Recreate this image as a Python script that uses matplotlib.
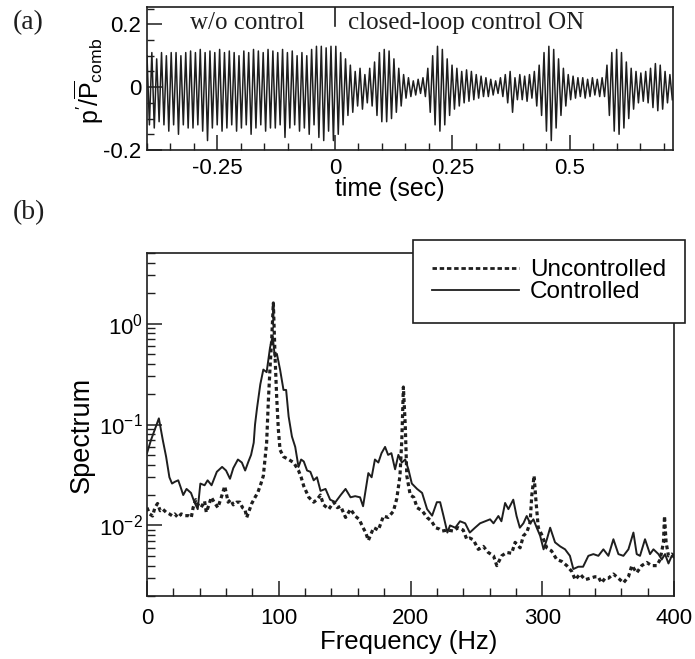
import numpy as np
import matplotlib
matplotlib.use("Agg")
import matplotlib.pyplot as plt
from matplotlib.ticker import MultipleLocator, FixedLocator, LogLocator, NullFormatter, FixedFormatter
from matplotlib.lines import Line2D

plt.rcParams['font.family'] = ['Liberation Sans', 'DejaVu Sans']
plt.rcParams['mathtext.fontset'] = 'custom'
plt.rcParams['mathtext.rm'] = 'Liberation Sans'
plt.rcParams['mathtext.it'] = 'Liberation Sans:italic'
plt.rcParams['mathtext.bf'] = 'Liberation Sans:bold'

INK = '#1e1e1e'

# ---------------- Panel (a): pressure trace, per-cycle peaks
signal_freq_hz = 97.0
signal_t0 = -0.4
upper_pre = [0.10, 0.11, 0.09, 0.11, 0.10, 0.11, 0.11, 0.10, 0.11, 0.115, 0.11, 0.12, 0.11,
             0.115, 0.11, 0.12, 0.11, 0.115, 0.11, 0.10, 0.115, 0.11, 0.12, 0.115, 0.11, 0.12,
             0.115, 0.11, 0.12, 0.11, 0.115, 0.10, 0.11, 0.10, 0.12, 0.13, 0.13, 0.125, 0.13]
lower_pre = [-0.12, -0.13, -0.11, -0.12, -0.14, -0.12, -0.15, -0.12, -0.13, -0.13, -0.12, -0.14,
             -0.17, -0.13, -0.12, -0.14, -0.13, -0.12, -0.14, -0.13, -0.12, -0.15, -0.13, -0.12,
             -0.14, -0.13, -0.13, -0.12, -0.16, -0.13, -0.12, -0.14, -0.13, -0.15, -0.12, -0.16,
             -0.17, -0.14, -0.17]
upper_post = [0.13, 0.11, 0.09, 0.07, 0.05, 0.06, 0.04,
              0.06, 0.08, 0.11, 0.12, 0.115, 0.09, 0.06,
              0.04, 0.03, 0.02, 0.025, 0.03,
              0.06, 0.10, 0.13, 0.12, 0.09, 0.07,
              0.06, 0.05, 0.055, 0.05, 0.04, 0.035, 0.03, 0.025, 0.02,
              0.03, 0.04, 0.05, 0.03, 0.04, 0.035, 0.04,
              0.05, 0.07, 0.11, 0.13, 0.12, 0.09, 0.06, 0.04,
              0.035, 0.03, 0.03, 0.025, 0.03, 0.025, 0.03,
              0.07, 0.11, 0.12, 0.11, 0.08, 0.06,
              0.05, 0.045, 0.05, 0.06, 0.075, 0.07, 0.05, 0.04]
lower_post = [-0.15, -0.12, -0.09, -0.08, -0.06, -0.07, -0.05,
              -0.06, -0.09, -0.11, -0.11, -0.10, -0.08, -0.06,
              -0.035, -0.03, -0.025, -0.02, -0.03,
              -0.08, -0.12, -0.14, -0.12, -0.09, -0.07,
              -0.06, -0.05, -0.045, -0.04, -0.035, -0.03, -0.03, -0.025, -0.02,
              -0.03, -0.05, -0.08, -0.04, -0.04, -0.045, -0.035,
              -0.06, -0.09, -0.14, -0.17, -0.13, -0.09, -0.06, -0.04,
              -0.035, -0.03, -0.035, -0.03, -0.025, -0.03, -0.03,
              -0.09, -0.14, -0.15, -0.13, -0.10, -0.07,
              -0.05, -0.045, -0.05, -0.065, -0.075, -0.07, -0.05, -0.04]

# ---------------- Panel (b): spectra
ctrl_f = [0, 3, 6, 9, 12, 14.5, 17, 19, 21, 23.7, 25.5, 27.5, 30, 33.4, 36, 38.5, 40.5, 43.7,
          46, 49, 53, 57, 60, 63, 65.5, 69, 72, 74.5, 77, 79, 81, 82, 83.5, 86, 88.3, 90.8,
          93.4, 95.4, 97, 98.6, 101, 103.6, 105.6, 107.5, 110, 112.5, 115, 117, 119, 121.5,
          124, 126.5, 129, 131.7, 135.5, 139, 143, 147, 150.7, 154.5, 158, 161.7, 164, 168,
          170.5, 173, 175.6, 178, 180.7, 183, 185.5, 188.3, 190.8, 193.4, 196, 198.4, 201,
          205, 208.8, 212.6, 216.4, 220, 222.5, 225, 228, 230, 234, 237.6, 241.5, 245, 249,
          252.8, 256.6, 260.4, 263, 266.7, 269, 271.8, 274.3, 278, 280.5, 283, 285.7, 288.2,
          290.8, 293.3, 295.8, 298.4, 301, 303.4, 306, 309.7, 313.6, 317.3, 321, 323.6, 327.4,
          331, 335, 338.8, 342.6, 346.4, 350.2, 354, 357.8, 361.6, 365.4, 369.2, 371.7, 374.2,
          378, 381.8, 384.4, 388.2, 390.7, 393.2, 395.8, 398.3, 400]
ctrl_s = [0.052, 0.07, 0.09, 0.115, 0.07, 0.048, 0.03, 0.026, 0.027, 0.028, 0.024, 0.02, 0.023,
          0.021, 0.017, 0.0145, 0.026, 0.025, 0.028, 0.025, 0.034, 0.038, 0.035, 0.029, 0.037,
          0.045, 0.042, 0.035, 0.043, 0.05, 0.066, 0.1, 0.145, 0.25, 0.35, 0.33, 0.58, 0.75,
          0.47, 0.5, 0.35, 0.22, 0.22, 0.12, 0.076, 0.06, 0.038, 0.045, 0.043, 0.035, 0.034,
          0.028, 0.03, 0.022, 0.023, 0.018, 0.017, 0.02, 0.023, 0.019, 0.0195, 0.019, 0.0155,
          0.033, 0.03, 0.045, 0.042, 0.052, 0.06, 0.05, 0.052, 0.036, 0.05, 0.042, 0.045,
          0.036, 0.026, 0.023, 0.021, 0.0145, 0.0125, 0.017, 0.017, 0.0125, 0.0085, 0.01,
          0.0095, 0.011, 0.0105, 0.0085, 0.0095, 0.0105, 0.011, 0.0115, 0.0105, 0.0124, 0.011,
          0.0167, 0.0145, 0.018, 0.0124, 0.0095, 0.0105, 0.0124, 0.0105, 0.0115, 0.0095,
          0.0079, 0.0058, 0.0072, 0.0095, 0.0068, 0.0062, 0.0058, 0.005, 0.0037, 0.0039,
          0.0039, 0.005, 0.0052, 0.005, 0.0058, 0.005, 0.0073, 0.0052, 0.005, 0.0058, 0.0085,
          0.0052, 0.005, 0.0073, 0.0052, 0.0058, 0.0052, 0.0046, 0.0052, 0.0042, 0.005, 0.0048]
unc_f = [0, 2, 4.2, 6, 8, 10, 12, 14.5, 17, 19, 21, 23.5, 26, 29, 31.5, 33.6, 35, 37, 38.8, 41,
         43.7, 45, 47, 48.8, 51, 53.8, 56.4, 59, 61.6, 63.5, 65.5, 68, 70.5, 72.5, 74.3, 75.7,
         77.5, 79.5, 82, 84, 86.5, 88.3, 90.8, 92.1, 93.4, 94.6, 95.9, 97.2, 98.4, 99.7, 101,
         103.6, 107.5, 111.3, 115, 117, 119, 122.8, 126.5, 129, 131.6, 134, 138, 141.7, 144.5,
         147, 150.7, 154.5, 158, 161, 164, 166, 168, 172, 175.6, 179.5, 183, 187, 189.6, 192,
         193.4, 194.6, 196, 197.2, 199.8, 202.5, 205, 208.8, 212.6, 216, 219, 222, 224, 228,
         232.5, 236, 240, 242.7, 245, 247.7, 251.5, 255.3, 259, 263, 265.5, 269.2, 273, 276.8,
         279.4, 283.2, 285.7, 288.2, 290.8, 292, 293.8, 295.3, 297, 300, 303.4, 307, 311,
         314.8, 318.6, 322.4, 325, 328.7, 332.5, 336.3, 340, 342.5, 345, 347.7, 350.2, 354,
         357.8, 361.6, 365.4, 368, 371.7, 375.5, 379.3, 383, 386.9, 389.5, 392, 392.8, 394,
         395.8, 398.3, 400]
unc_s = [0.015, 0.013, 0.0124, 0.015, 0.0165, 0.014, 0.0145, 0.0135, 0.013, 0.0125, 0.013,
         0.012, 0.013, 0.0125, 0.0125, 0.012, 0.015, 0.018, 0.016, 0.015, 0.0174, 0.0135, 0.016,
         0.019, 0.017, 0.015, 0.019, 0.0245, 0.017, 0.018, 0.016, 0.017, 0.017, 0.015, 0.0145,
         0.012, 0.014, 0.0165, 0.019, 0.021, 0.026, 0.031, 0.066, 0.17, 0.37, 0.68, 1.6, 0.47,
         0.19, 0.089, 0.056, 0.048, 0.045, 0.042, 0.035, 0.03, 0.0245, 0.019, 0.017, 0.018,
         0.02, 0.016, 0.0145, 0.017, 0.015, 0.0155, 0.012, 0.0145, 0.0124, 0.0115, 0.0095,
         0.0085, 0.0071, 0.0095, 0.009, 0.0124, 0.012, 0.0138, 0.0185, 0.031, 0.07, 0.235, 0.1,
         0.031, 0.02, 0.019, 0.015, 0.014, 0.012, 0.011, 0.0095, 0.0092, 0.0088, 0.009, 0.0088,
         0.0095, 0.009, 0.0073, 0.0075, 0.0072, 0.0058, 0.0062, 0.0054, 0.005, 0.004, 0.005,
         0.0054, 0.0053, 0.0068, 0.006, 0.0079, 0.0085, 0.0107, 0.0195, 0.031, 0.017, 0.0095,
         0.0079, 0.006, 0.0056, 0.0046, 0.0044, 0.004, 0.0035, 0.0029, 0.0033, 0.0029, 0.003,
         0.0031, 0.0031, 0.0027, 0.003, 0.003, 0.0033, 0.003, 0.0027, 0.0031, 0.004, 0.0034,
         0.004, 0.0043, 0.004, 0.004, 0.0046, 0.0068, 0.0124, 0.0068, 0.005, 0.0052, 0.005]

W, H = 695, 659
fig = plt.figure(figsize=(W / 100, H / 100), dpi=100)


def fx(px):
    return px / W


def fy(py):
    return 1 - py / H


# ---------------- axes (a)
axa = fig.add_axes([fx(147), fy(150), fx(673 - 147), (150 - 7) / H])
upper = upper_pre + upper_post
lower = lower_pre + lower_post
T = 1.0 / signal_freq_hz
t_pts, y_pts = [], []
for i, (u, l) in enumerate(zip(upper, lower)):
    t_pts += [signal_t0 + i * T, signal_t0 + (i + 0.5) * T]
    y_pts += [u, l]
axa.plot(t_pts, y_pts, color=INK, lw=1.1)
axa.set_xlim(-0.4, 0.72)
axa.set_ylim(-0.2, 0.255)
axa.xaxis.set_major_locator(FixedLocator([-0.25, 0, 0.25, 0.5]))
axa.xaxis.set_major_formatter(FixedFormatter(['-0.25', '0', '0.25', '0.5']))
axa.xaxis.set_minor_locator(MultipleLocator(0.05))
axa.yaxis.set_major_locator(FixedLocator([-0.2, 0, 0.2]))
axa.yaxis.set_major_formatter(FixedFormatter(['-0.2', '0', '0.2']))
axa.yaxis.set_minor_locator(MultipleLocator(0.05))
axa.tick_params(which='both', direction='in', top=False, right=False, labelsize=16, color=INK)
axa.tick_params(which='major', length=11, width=1.1)
axa.tick_params(which='minor', length=5, width=1.0)
axa.tick_params(axis='y', pad=4)
axa.tick_params(axis='x', pad=6)
for s in axa.spines.values():
    s.set_linewidth(1.2)
    s.set_color(INK)
axa.axvline(0, ymin=0.87, ymax=1, color=INK, lw=1.2)
axa.set_xlabel('time (sec)', fontsize=18)
axa.xaxis.set_label_coords((390 - 147) / 526, -0.19)
axa.set_ylabel(r"$\mathrm{p'/\overline{P}_{comb}}$", fontsize=18)
axa.yaxis.set_label_coords((106 - 147) / 526, 0.48)
serif = ['Liberation Serif', 'DejaVu Serif']
axa.text((190 - 147) / 526, (150 - 23) / 143, 'w/o control', family=serif, fontsize=18,
         transform=axa.transAxes, ha='left', va='center', color=INK)
axa.text((348 - 147) / 526, (150 - 23) / 143, 'closed-loop control ON', family=serif,
         fontsize=18, transform=axa.transAxes, ha='left', va='center', color=INK)
fig.text(fx(13), fy(23), '(a)', family=serif, fontsize=20, ha='left', va='center', color=INK)
fig.text(fx(13), fy(213), '(b)', family=serif, fontsize=20, ha='left', va='center', color=INK)

# ---------------- axes (b)
axb = fig.add_axes([fx(147), fy(596), fx(674 - 147), (596 - 253) / H])
axb.plot(unc_f, unc_s, color=INK, lw=2.3, linestyle=(0, (1.2, 1.0)), label='Uncontrolled')
axb.plot(ctrl_f, ctrl_s, color=INK, lw=1.4, label='Controlled')
axb.set_yscale('log')
axb.set_xlim(0, 400)
axb.set_ylim(2e-3, 5)
axb.xaxis.set_major_locator(MultipleLocator(100))
axb.xaxis.set_minor_locator(MultipleLocator(20))
axb.yaxis.set_major_locator(FixedLocator([1e-2, 1e-1, 1e0]))
axb.yaxis.set_minor_locator(LogLocator(base=10, subs=np.arange(2, 10), numticks=20))
axb.yaxis.set_minor_formatter(NullFormatter())
axb.tick_params(which='both', direction='in', top=False, right=False, labelsize=16, color=INK)
axb.tick_params(which='major', length=11, width=1.1)
axb.tick_params(which='minor', length=6, width=1.0)
axb.tick_params(axis='y', pad=3)
axb.tick_params(axis='x', pad=9)
for s in axb.spines.values():
    s.set_linewidth(1.2)
    s.set_color(INK)
axb.set_xlabel('Frequency (Hz)', fontsize=18.5)
axb.xaxis.set_label_coords(0.496, -0.1)
axb.set_ylabel('Spectrum', fontsize=19.5)
axb.yaxis.set_label_coords((95 - 147) / 527, 0.47)

handles = [Line2D([], [], color=INK, lw=2.0, linestyle=(0, (1.6, 1.0))),
           Line2D([], [], color=INK, lw=1.3)]
leg = fig.legend(handles, ['Uncontrolled', 'Controlled'], loc='upper left',
                 bbox_to_anchor=(fx(413), fy(240)), bbox_transform=fig.transFigure,
                 borderaxespad=0, fancybox=False, framealpha=1, edgecolor=INK,
                 fontsize=17.5, handlelength=3.55, handletextpad=0.45, labelspacing=0.0,
                 borderpad=0.8)
leg.get_frame().set_linewidth(1.2)

fig.savefig('out.png', dpi=100)
